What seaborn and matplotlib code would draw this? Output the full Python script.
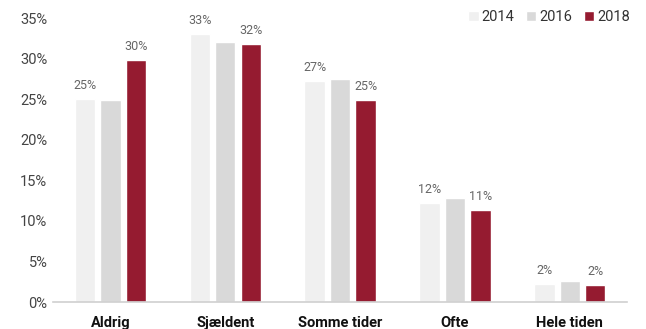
import seaborn as sns
import matplotlib.pyplot as plt
import pandas as pd
from matplotlib.patches import Patch

categories = ["Aldrig", "Sjældent", "Somme tider", "Ofte", "Hele tiden"]
years = ["2014", "2016", "2018"]
v2014 = [25.0, 33.1, 27.3, 12.2, 2.2]
v2016 = [24.9, 32.0, 27.5, 12.8, 2.6]
v2018 = [29.8, 31.8, 24.9, 11.3, 2.1]
colors = ["#f0f0f0", "#d9d9d9", "#951b30"]

rows = []
for yr, vals in zip(years, [v2014, v2016, v2018]):
    for c, v in zip(categories, vals):
        rows.append({"kategori": c, "aar": yr, "andel": v})
data = pd.DataFrame(rows)

sns.set_style("white")
plt.rcParams["font.family"] = ["Roboto", "DejaVu Sans"]

fig = plt.figure(figsize=(6.46, 3.29), dpi=100)
ax = fig.add_axes([0.082, 0.082, 0.889, 0.863])

sns.barplot(data=data, x="kategori", y="andel", hue="aar", order=categories,
            hue_order=years, palette=colors, width=0.665, gap=0.2,
            saturation=1, legend=False, ax=ax)

# value labels only for 2014 and 2018
for i, cont in enumerate(ax.containers):
    if years[i] == "2016":
        continue
    labels = ["%d%%" % round(v) for v in cont.datavalues]
    ax.bar_label(cont, labels=labels, padding=5, fontsize=9, color="#666666")

ax.set_ylim(0, 35)
ax.set_xlim(-0.5, 4.5)
ax.set_yticks(range(0, 36, 5))
ax.set_yticklabels(["%d%%" % t for t in range(0, 36, 5)], fontsize=10.5, color="#444444")
ax.set_xticks(range(len(categories)))
ax.set_xticklabels(categories, fontsize=10.5, fontweight="bold", color="#111111")
ax.tick_params(axis="y", length=0, pad=4)
ax.tick_params(axis="x", length=0, pad=10)
ax.set_xlabel("")
ax.set_ylabel("")
for s in ["top", "right", "left"]:
    ax.spines[s].set_visible(False)
ax.spines["bottom"].set_color("#d0d0d0")
ax.spines["bottom"].set_linewidth(1.2)

handles = [Patch(facecolor=c, label=y) for c, y in zip(colors, years)]
fig.legend(handles=handles, loc="upper right", bbox_to_anchor=(0.995, 1.01), ncol=3,
           frameon=False, fontsize=10.5, handlelength=0.7, handleheight=0.7,
           handletextpad=0.2, columnspacing=0.8, labelcolor="#333333")

fig.savefig("out.png", dpi=100)
